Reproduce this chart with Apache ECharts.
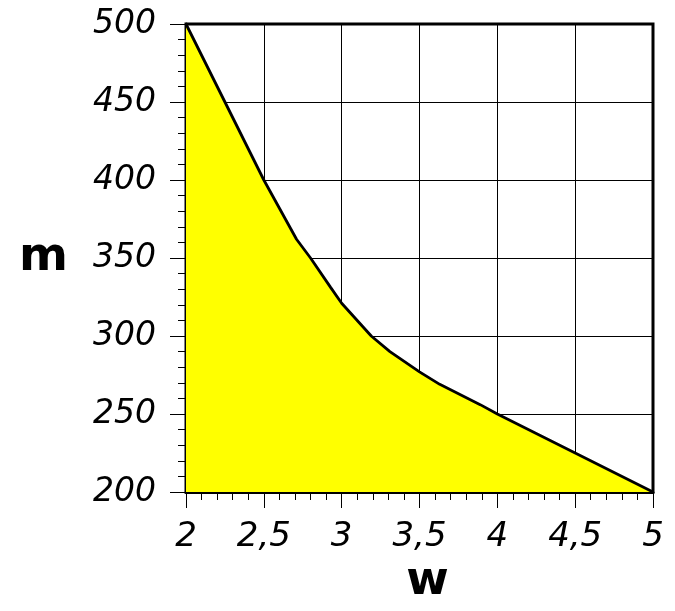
<!DOCTYPE html>
<html>
<head>
<meta charset="utf-8">
<script src="https://cdn.jsdelivr.net/npm/echarts@6/dist/echarts.min.js"></script>
<style>
  html, body { margin: 0; padding: 0; background: #fff; }
  #main { width: 675px; height: 611px; }
</style>
</head>
<body>
<div id="main"></div>
<script>
// values
const wValues = [2, 2.25, 2.5, 2.71, 2.8, 2.93, 3, 3.19, 3.31, 3.5, 3.63, 3.89, 4, 4.5, 5];
const mValues = [500, 450, 400, 362, 350, 331, 321, 300, 290, 277, 269, 256, 250, 225, 200];

const xName = 'w';
const yName = 'm';

const points = wValues.map((w, i) => [w, mValues[i]]);

const chart = echarts.init(document.getElementById('main'));

const tickStyle = { color: '#000', width: 1 };

const option = {
    animation: false,
    grid: {
        left: 186,
        right: 22,
        top: 24,
        bottom: 119,
        outerBoundsMode: 'none',
        containLabel: false,
        show: true,
        borderColor: '#000',
        borderWidth: 3
    },
    xAxis: {
        type: 'value',
        min: 2,
        max: 5,
        interval: 0.5,
        name: xName,
        nameLocation: 'middle',
        nameGap: 66,
        nameTextStyle: {
            color: '#000',
            fontFamily: 'DejaVu Sans',
            fontWeight: 'bold',
            fontSize: 46,
            padding: [0, 0, 0, 16]
        },
        axisLine: { show: true, lineStyle: { color: '#000', width: 3 } },
        axisTick: { show: true, inside: false, length: 16, lineStyle: tickStyle },
        minorTick: { show: true, splitNumber: 5, length: 8, lineStyle: tickStyle },
        splitLine: { show: true, lineStyle: { color: '#000', width: 1 } },
        axisLabel: {
            margin: 28,
            color: '#000',
            fontFamily: 'DejaVu Sans',
            fontStyle: 'italic',
            fontSize: 34,
            formatter: v => String(v).replace('.', ',')
        }
    },
    yAxis: {
        type: 'value',
        min: 200,
        max: 500,
        interval: 50,
        name: yName,
        nameLocation: 'middle',
        nameRotate: 0,
        nameGap: 118,
        nameTextStyle: {
            color: '#000',
            fontFamily: 'DejaVu Sans',
            fontWeight: 'bold',
            fontSize: 47
        },
        axisLine: { show: true, lineStyle: { color: '#000', width: 3 } },
        axisTick: { show: true, inside: false, length: 16, lineStyle: tickStyle },
        minorTick: { show: true, splitNumber: 5, length: 8, lineStyle: tickStyle },
        splitLine: { show: true, lineStyle: { color: '#000', width: 1 } },
        axisLabel: {
            margin: 30,
            color: '#000',
            fontFamily: 'DejaVu Sans',
            fontStyle: 'italic',
            fontSize: 33
        }
    },
    series: [
        {
            type: 'line',
            data: points,
            symbol: 'none',
            smooth: false,
            lineStyle: { color: '#000', width: 2.8 },
            areaStyle: { color: '#ffff00', opacity: 1, origin: 'start' },
            z: 1
        }
    ]
};

chart.setOption(option);
</script>
</body>
</html>
